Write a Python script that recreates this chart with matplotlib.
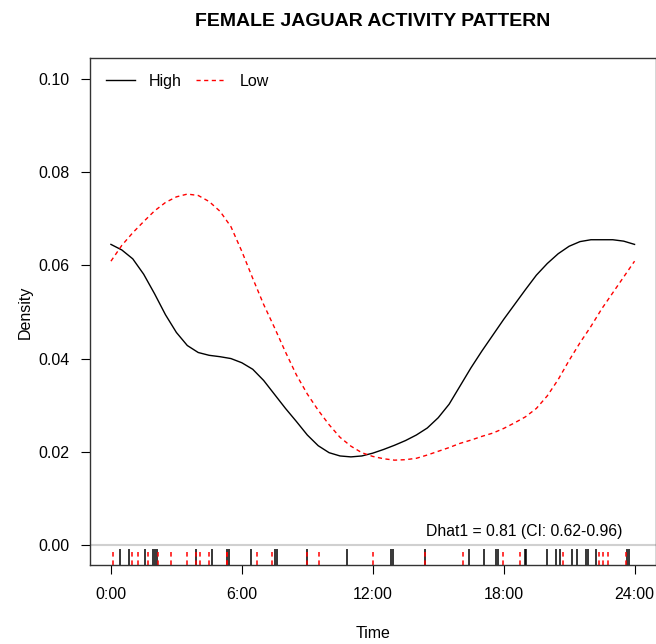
import numpy as np
import matplotlib
matplotlib.use("Agg")
import matplotlib.pyplot as plt

plt.rcParams["font.family"] = ["Liberation Sans", "DejaVu Sans"]

# kernel density estimates read every half hour, 0:00 .. 24:00
hours = np.arange(0, 24.5, 0.5)
dens_high = [0.0645, 0.0633, 0.0614, 0.0581, 0.0539, 0.0494, 0.0456, 0.0428, 0.0413,
             0.0407, 0.0404, 0.0400, 0.0391, 0.0377, 0.0353, 0.0323, 0.0293, 0.0265,
             0.0236, 0.0213, 0.0198, 0.0191, 0.0189, 0.0191, 0.0197, 0.0205, 0.0214,
             0.0224, 0.0236, 0.0251, 0.0273, 0.0302, 0.0341, 0.0380, 0.0416, 0.0450,
             0.0484, 0.0516, 0.0548, 0.0579, 0.0604, 0.0625, 0.0641, 0.0651, 0.0655,
             0.0655, 0.0655, 0.0652, 0.0645]
dens_low = [0.0609, 0.0643, 0.0670, 0.0694, 0.0717, 0.0735, 0.0747, 0.0753, 0.0750,
            0.0737, 0.0716, 0.0683, 0.0630, 0.0572, 0.0516, 0.0466, 0.0414, 0.0365,
            0.0324, 0.0289, 0.0258, 0.0231, 0.0212, 0.0198, 0.0190, 0.0185, 0.0182,
            0.0183, 0.0186, 0.0193, 0.0201, 0.0209, 0.0218, 0.0225, 0.0233, 0.0240,
            0.0250, 0.0262, 0.0275, 0.0293, 0.0320, 0.0355, 0.0396, 0.0434, 0.0469,
            0.0507, 0.0541, 0.0575, 0.0609]

# detection times (hours)
times_high = [0.40, 0.81, 1.55, 1.93, 2.01, 2.11, 3.88, 4.64, 5.30, 5.41, 6.40, 7.52,
              7.63, 9.00, 10.81, 12.83, 12.95, 14.41, 16.43, 17.09, 17.66, 17.73, 18.96,
              19.04, 20.00, 20.41, 20.60, 21.15, 21.38, 21.79, 21.87, 22.22, 23.67, 23.75]
times_low = [0.08, 0.97, 1.24, 1.69, 2.15, 2.77, 3.49, 3.88, 4.07, 4.49, 5.30, 5.33,
             6.71, 7.37, 9.00, 9.54, 11.99, 14.41, 16.12, 17.96, 18.77, 20.72, 22.37,
             22.55, 22.78, 23.60]

xticks = [0, 6, 12, 18, 24]
xlabels = ["0:00", "6:00", "12:00", "18:00", "24:00"]
yticks = [0.00, 0.02, 0.04, 0.06, 0.08, 0.10]

fig = plt.figure(figsize=(6.56, 6.44), dpi=100)
ax = fig.add_axes([90 / 656, 1 - 565 / 644, 565.5 / 656, 507 / 644])

ymin, ymax = -0.0043, 0.1045
ax.axhline(0, color="#d0d0d0", lw=1.5, zorder=1)
ax.plot(hours, dens_high, color="black", lw=1, label="High")
ax.plot(hours, dens_low, color="red", lw=1, dashes=(3, 2.5), label="Low")

# rug of detections below the zero line
ax.vlines(times_high, ymin, -0.0008, color="black", lw=1.1)
ax.vlines(times_low, ymin, -0.0008, color="red", lw=1.1, linestyles=(0, (3, 2.5)))

ax.set_xlim(-0.96, 24.96)
ax.set_ylim(ymin, ymax)
ax.set_xticks(xticks)
ax.set_xticklabels(xlabels)
ax.set_yticks(yticks)
ax.set_yticklabels(["%.2f" % v for v in yticks])
ax.tick_params(direction="out", length=6.5, width=0.8, labelsize=11.5, pad=8)
ax.tick_params(axis="x", pad=9.5)
for s in ax.spines.values():
    s.set_color("#333333")
    s.set_linewidth(1)

ax.text(18.95, 0.0028, "Dhat1 = 0.81 (CI: 0.62-0.96)", ha="center", va="center",
        fontsize=11.3)

ax.legend(loc="upper left", ncol=2, frameon=False, fontsize=11.5, handlelength=1.8,
          handletextpad=0.9, columnspacing=0.9, borderaxespad=0.6)

fig.text(373 / 656, 1 - 21 / 644, "FEMALE JAGUAR ACTIVITY PATTERN", ha="center",
         va="center", fontsize=14, fontweight="bold")
fig.text(373 / 656, 1 - 633 / 644, "Time", ha="center", va="center", fontsize=11.5)
fig.text(25 / 656, 1 - 312 / 644, "Density", ha="center", va="center", rotation=90,
         fontsize=11.5)

fig.savefig("out.png", dpi=100)
